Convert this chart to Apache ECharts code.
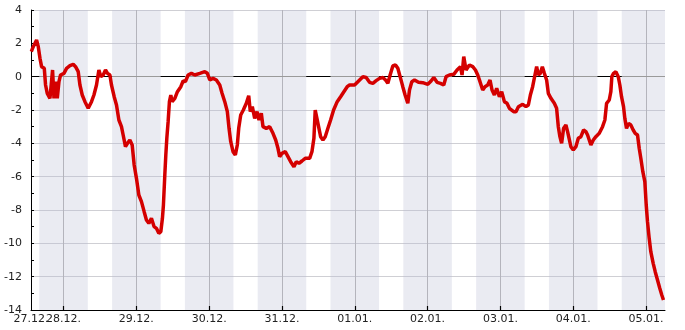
<!DOCTYPE html>
<html><head><meta charset="utf-8">
<script src="https://cdn.jsdelivr.net/npm/echarts@6/dist/echarts.min.js"></script>
<style>html,body{margin:0;padding:0;background:#fff}#c{width:685px;height:330px}</style>
</head><body><div id="c"></div>
<script>
// x values are hours after 27.12. 00:00
const baseDay = Date.UTC(2014, 11, 27);
const axisStartHour = 13.27;
const axisEndHour = 222.26;
// midnights (tick + grid positions)
const midnightHours = [24,48,72,96,120,144,168,192,216];
const startLabelHours = [13.27];

const hours = [13.37,14.02,15.11,15.67,16.23,16.76,17.65,18.07,18.63,19.52,20.05,20.38,20.84,21.37,21.93,22.49,23.01,24.13,24.99,26.11,27.19,27.95,28.84,29.40,30.16,31.05,32.13,33.22,34.01,34.86,35.65,36.31,37.07,37.83,38.49,39.28,39.80,40.69,41.45,42.24,43.09,43.65,44.41,45.07,45.86,46.62,47.28,48.03,48.82,49.68,50.57,51.32,52.11,52.97,53.86,54.61,55.40,56.06,56.59,56.92,57.38,57.71,58.04,58.47,58.90,59.36,59.79,60.68,61.54,62.66,63.41,64.17,65.06,66.14,67.26,68.91,70.55,71.41,72.20,73.28,74.37,75.49,76.25,77.14,77.99,78.55,79.11,79.87,80.63,81.28,81.74,82.40,83.26,84.25,85.04,85.56,86.22,87.01,87.77,88.43,89.19,89.75,90.83,91.95,93.04,93.93,94.68,95.24,96.00,97.09,97.98,98.86,99.95,100.71,101.60,102.58,103.67,105.12,105.88,106.53,106.96,107.52,108.08,108.74,109.50,110.26,111.14,112.03,113.02,114.21,115.33,116.41,117.50,118.29,118.82,119.93,121.02,122.67,123.75,124.87,125.96,127.05,128.16,129.25,130.14,130.90,131.65,132.54,133.43,134.19,134.95,135.83,136.59,137.48,138.04,138.80,139.69,141.00,142.42,144.07,145.15,146.04,147.13,148.25,149.33,150.09,151.21,152.63,153.71,154.83,155.36,155.92,156.68,157.79,158.88,159.77,160.53,161.28,162.17,162.93,163.82,164.58,165.24,166.02,166.78,167.67,168.43,169.32,170.17,170.96,172.38,173.14,173.93,175.34,176.43,177.22,177.88,178.63,179.39,179.95,180.51,181.17,181.83,182.49,183.24,183.80,184.66,185.78,186.53,187.09,187.62,188.18,188.84,189.60,190.15,190.71,191.24,192.03,192.89,193.68,194.54,195.42,196.18,196.74,197.30,197.83,198.62,199.47,200.59,201.68,202.44,203.00,203.88,204.41,204.74,205.30,206.06,206.85,207.38,207.93,208.59,209.02,209.58,210.24,210.99,211.78,212.44,213.20,213.76,214.29,214.95,215.61,216.07,216.49,217.05,217.58,218.37,219.03,219.79,220.54,221.20,221.76];

const temps = [1.5,1.8,2.2,1.8,1.1,0.6,0.5,-0.5,-1.0,-1.3,-1.4,0.4,-1.3,-0.3,-1.3,-0.3,0.1,0.2,0.5,0.66,0.74,0.6,0.3,-0.5,-1.1,-1.5,-1.9,-1.5,-1.1,-0.5,0.4,0.0,0.1,0.4,0.2,0.1,-0.5,-1.2,-1.7,-2.6,-3.0,-3.5,-4.2,-4.0,-3.8,-4.1,-5.3,-6.1,-7.1,-7.5,-8.1,-8.6,-8.8,-8.5,-9.0,-9.1,-9.4,-9.3,-8.5,-7.7,-5.9,-4.7,-3.7,-2.7,-1.5,-1.1,-1.5,-1.3,-0.9,-0.6,-0.26,-0.3,0.1,0.2,0.1,0.2,0.3,0.2,-0.2,-0.1,-0.2,-0.5,-1.0,-1.5,-2.1,-3.1,-3.9,-4.5,-4.7,-4.1,-3.1,-2.3,-2.0,-1.6,-1.14,-2.1,-1.8,-2.5,-2.1,-2.6,-2.2,-3.0,-3.1,-3.0,-3.4,-3.8,-4.3,-4.8,-4.6,-4.5,-4.8,-5.1,-5.4,-5.1,-5.2,-5.06,-4.9,-4.9,-4.5,-3.7,-2.0,-2.5,-2.6,-3.6,-3.8,-3.6,-3.1,-2.6,-2.0,-1.5,-1.2,-0.9,-0.6,-0.5,-0.5,-0.5,-0.3,0.0,-0.05,-0.34,-0.4,-0.24,-0.1,-0.05,-0.2,-0.4,0.1,0.64,0.7,0.5,0.0,-0.6,-1.1,-1.6,-0.8,-0.3,-0.2,-0.34,-0.36,-0.46,-0.26,-0.05,-0.34,-0.4,-0.5,0.0,0.1,0.14,0.4,0.6,0.1,1.2,0.4,0.7,0.6,0.4,0.1,-0.3,-0.8,-0.6,-0.5,-0.2,-0.8,-1.1,-0.7,-1.2,-0.9,-1.5,-1.6,-1.9,-2.1,-2.1,-1.8,-1.66,-1.8,-1.7,-1.1,-0.6,0.1,0.6,0.1,0.2,0.6,0.2,-0.2,-1.0,-1.3,-1.6,-1.9,-3.0,-3.6,-4.0,-3.1,-2.9,-3.3,-3.2,-4.2,-4.4,-4.2,-3.7,-3.6,-3.2,-3.3,-3.5,-3.6,-4.1,-3.8,-3.6,-3.4,-3.0,-2.6,-1.6,-1.4,-0.9,0.0,0.2,0.3,0.0,-0.5,-1.2,-1.8,-2.5,-3.1,-2.8,-2.9,-3.2,-3.4,-3.5,-4.3,-4.9,-5.7,-6.3,-7.7,-8.7,-9.7,-10.5,-11.2,-11.7,-12.2,-12.7,-13.1,-13.4];

// night periods (shaded), 16:00 - 08:00
const nightStart = [16,40,64,88,112,136,160,184,208];
const nightEnd   = [32,56,80,104,128,152,176,200,222.26];
// day periods (zero line drawn black)
const dayStart = [13.27,32,56,80,104,128,152,176,200];
const dayEnd   = [16,40,64,88,112,136,160,184,208];

const yMin = -14, yMax = 4, yStep = 2;
const xTickLen = 0.24; // tick length in y units (about 4px)

const pad = n => (n < 10 ? '0' : '') + n;
const fmtDay = h => { const d = new Date(baseDay + h * 3600000); return pad(d.getUTCDate()) + '.' + pad(d.getUTCMonth() + 1) + '.'; };

const FONT = 'DejaVu Sans';
const labelStyle = {formatter: v => fmtDay(v), color: '#222', fontFamily: FONT, fontSize: 11, margin: 4, hideOverlap: false};
const chart = echarts.init(document.getElementById('c'), null, {renderer: 'canvas'});
chart.setOption({
  animation: false,
  backgroundColor: '#fff',
  grid: {left: 31, right: 20, top: 10, bottom: 20, containLabel: false},
  xAxis: [{
    type: 'value',
    min: axisStartHour, max: axisEndHour,
    axisLine: {show: true, onZero: false, lineStyle: {color: '#000', width: 1}},
    axisTick: {show: true, inside: true, length: 4, customValues: midnightHours, lineStyle: {color: '#000'}},
    axisLabel: Object.assign({customValues: midnightHours}, labelStyle),
    splitLine: {show: false}
  }, {
    type: 'value', position: 'bottom',
    min: axisStartHour, max: axisEndHour,
    axisLine: {show: false, onZero: false}, axisTick: {show: false}, splitLine: {show: false},
    axisLabel: Object.assign({customValues: startLabelHours, showMinLabel: true}, labelStyle)
  }],
  yAxis: {
    type: 'value', min: yMin, max: yMax, interval: yStep,
    axisLine: {show: true, lineStyle: {color: '#000', width: 1}},
    axisTick: {show: true, inside: true, length: 3, lineStyle: {color: '#000'}},
    minorTick: {show: true, splitNumber: 2, length: 3, lineStyle: {color: '#000'}},
    axisLabel: {color: '#222', fontFamily: FONT, fontSize: 11, margin: 9},
    splitLine: {show: true, lineStyle: {color: '#cfcfd4', width: 1}}
  },
  series: [
    {
      type: 'line', data: [], z: 1, silent: true,
      markArea: {
        silent: true, z: 1,
        itemStyle: {color: 'rgba(185,188,212,0.3)'},
        data: nightStart.map((s, i) => [{xAxis: s}, {xAxis: nightEnd[i]}])
      },
      markLine: {
        silent: true, z: 2, symbol: 'none', label: {show: false},
        lineStyle: {type: 'solid', width: 1, opacity: 1},
        data: midnightHours.map(h => [
            {coord: [h, yMin], lineStyle: {color: '#b4b4bc', type: 'solid', width: 1, opacity: 1}},
            {coord: [h, yMax]}
          ])
          .concat([{yAxis: 0, lineStyle: {color: '#9a9a9a', type: 'solid', width: 1, opacity: 1}}])
          .concat(dayStart.map((s, i) => [
            {coord: [s, 0], lineStyle: {color: '#000', type: 'solid', width: 1, opacity: 1}},
            {coord: [dayEnd[i], 0]}
          ]))
      }
    },
    {
      type: 'line', z: 3,
      data: hours.map((h, i) => [h, temps[i]]),
      showSymbol: false, symbol: 'none',
      lineStyle: {color: '#d40000', width: 3.5},
      emphasis: {disabled: true},
      markLine: {
        silent: true, z: 4, symbol: 'none', label: {show: false},
        data: midnightHours.map(h => [
          {coord: [h, yMin], lineStyle: {color: '#000', type: 'solid', width: 1.2, opacity: 1}},
          {coord: [h, yMin + xTickLen]}
        ])
      }
    }
  ]
});
</script></body></html>
